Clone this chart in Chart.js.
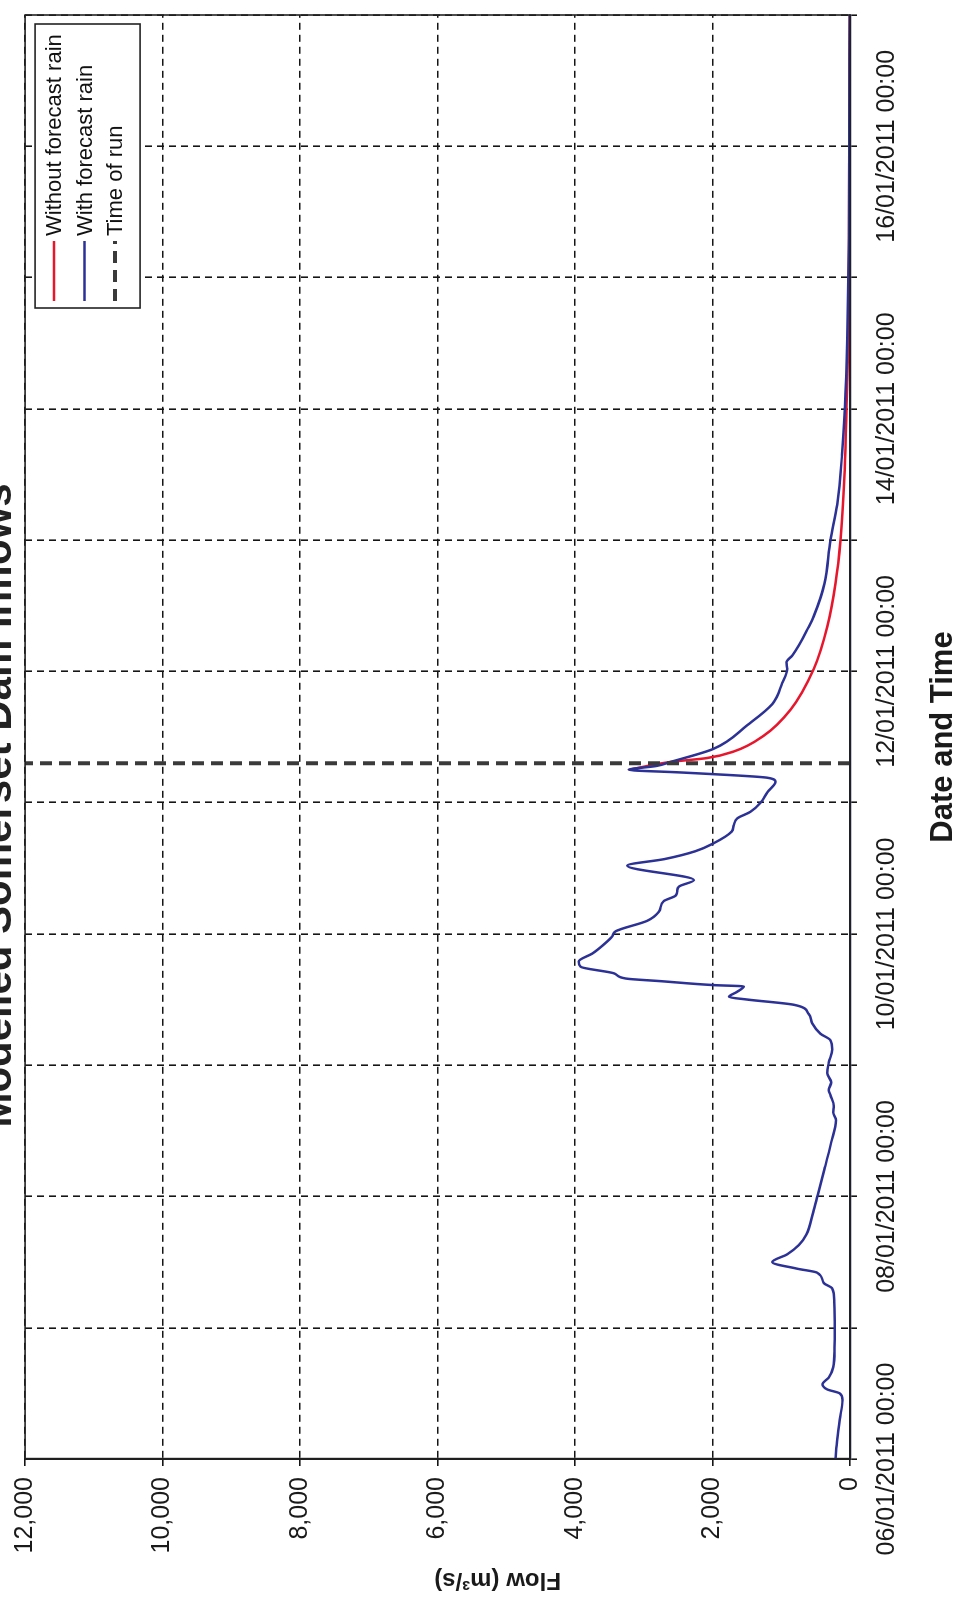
<!DOCTYPE html>
<html>
<head>
<meta charset="utf-8">
<script src="https://cdn.jsdelivr.net/npm/chart.js@4.4.1/dist/chart.umd.min.js"></script>
<style>
  html, body { margin: 0; padding: 0; background: #fff; }
  body { width: 969px; height: 1607px; overflow: hidden; position: relative; }
  /* chart is drawn landscape, then turned a quarter turn left like the scanned page */
  #wrap {
    position: absolute; left: 0; top: 0;
    width: 1607px; height: 1009px;
    transform-origin: 0 0;
    transform: translate(-40px, 1607px) rotate(-90deg);
  }
</style>
</head>
<body>
<div id="wrap"><canvas id="inflowChart" width="1607" height="1009"></canvas></div>
<script>
// days after 06/01/2011 00:00
const withDays = [0, 0.15, 0.30, 0.45, 0.50, 0.53, 0.57, 0.62, 0.70, 0.85,
  1.00, 1.20, 1.30, 1.34, 1.42, 1.45, 1.50, 1.56, 1.63, 1.71,
  1.88, 2.01, 2.21, 2.41, 2.58, 2.64, 2.69, 2.77, 2.81, 2.87,
  2.94, 3.02, 3.12, 3.19, 3.24, 3.32, 3.39, 3.46, 3.50, 3.52,
  3.56, 3.60, 3.61, 3.64, 3.66, 3.70, 3.75, 3.79, 3.85, 3.92,
  3.98, 4.02, 4.10, 4.17, 4.25, 4.29, 4.32, 4.36, 4.41, 4.52,
  4.57, 4.63, 4.69, 4.78, 4.83, 4.88, 4.93, 5.00, 5.08, 5.16,
  5.19, 5.21, 5.23, 5.25, 5.28, 5.31, 5.41, 5.59, 5.75, 5.91,
  6.02, 6.07, 6.12, 6.34, 6.42, 6.67, 7.00, 7.27, 7.65, 8.02,
  8.53, 9.30, 10.10, 11.00];
const withFlow = [211, 185, 150, 110, 150, 330, 400, 310, 245, 225,
  222, 228, 260, 380, 480, 770, 1130, 910, 745, 635,
  535, 470, 370, 275, 205, 245, 236, 284, 308, 274,
  332, 308, 260, 285, 430, 550, 600, 815, 1495, 1760,
  1640, 1545, 1980, 2750, 3260, 3435, 3920, 3945, 3750, 3580,
  3460, 3410, 2950, 2780, 2710, 2540, 2515, 2490, 2270, 3240,
  2700, 2250, 1985, 1720, 1690, 1640, 1450, 1300, 1200, 1084,
  1205, 1740, 2465, 3220, 2810, 2611, 1985, 1495, 1132, 986,
  913, 925, 841, 599, 527, 370, 284, 187, 116, 73,
  40, 15, 10, 5];

const withoutDays = [5.25, 5.31, 5.34, 5.39, 5.51, 5.71, 6.02, 6.34, 6.67,
  7.00, 7.50, 8.02, 8.44, 9.30, 10.10, 11.00];
const withoutFlow = [3220, 2611, 2076, 1690, 1255, 862, 527, 332, 211,
  138, 80, 51, 30, 14, 9, 5];

const timeOfRun = 5.30;          // 11/01/2011 ~07:00
const runFlow = [0, 12000];

const flowTicks = [0, 2000, 4000, 6000, 8000, 10000, 12000];
const dayLabels = ['06/01/2011 00:00', '08/01/2011 00:00', '10/01/2011 00:00',
  '12/01/2011 00:00', '14/01/2011 00:00', '16/01/2011 00:00'];

const pts = (xs, ys) => xs.map((x, i) => ({x: x, y: ys[i]}));

// plot frame + legend box inside the plot
const frame = {
  id: 'frame',
  afterDatasetsDraw(chart) {
    const {ctx, chartArea: a} = chart;
    ctx.save();
    ctx.strokeStyle = '#222';
    ctx.lineWidth = 1.6;
    ctx.strokeRect(a.left, a.top, a.right - a.left, a.bottom - a.top);

    const x0 = a.right - 293, y0 = a.top + 10, w = 284, h = 105;
    ctx.fillStyle = '#fff';
    ctx.fillRect(x0, y0, w, h);
    ctx.strokeRect(x0, y0, w, h);
    ctx.font = '22px "Liberation Sans", Arial, sans-serif';
    ctx.textBaseline = 'middle';
    chart.data.datasets.forEach((ds, i) => {
      const y = y0 + 19 + i * 30.5;
      ctx.strokeStyle = ds.borderColor;
      ctx.lineWidth = ds.borderWidth;
      ctx.setLineDash(ds.borderDash || []);
      ctx.beginPath();
      ctx.moveTo(x0 + 7, y);
      ctx.lineTo(x0 + 67, y);
      ctx.stroke();
      ctx.setLineDash([]);
      ctx.fillStyle = '#111';
      ctx.fillText(ds.label, x0 + 72, y + 1);
    });
    ctx.restore();
  }
};

Chart.defaults.font.family = '"Liberation Sans", Arial, sans-serif';
Chart.defaults.color = '#1a1a1a';

const ctx = document.getElementById('inflowChart').getContext('2d');
new Chart(ctx, {
  type: 'line',
  data: {
    datasets: [{
      label: 'Without forecast rain',
      data: pts(withoutDays, withoutFlow),
      borderColor: '#e8162c',
      borderWidth: 2.5,
      pointRadius: 0,
      cubicInterpolationMode: 'monotone',
      order: 2
    }, {
      label: 'With forecast rain',
      data: pts(withDays, withFlow),
      borderColor: '#2c3196',
      borderWidth: 2.5,
      pointRadius: 0,
      cubicInterpolationMode: 'monotone',
      order: 1
    }, {
      label: 'Time of run',
      data: pts([timeOfRun, timeOfRun], runFlow),
      borderColor: '#3a3a3a',
      borderWidth: 4,
      borderDash: [12, 7],
      pointRadius: 0,
      order: 0
    }]
  },
  options: {
    responsive: false,
    animation: false,
    devicePixelRatio: 1,
    layout: { padding: { left: 0, right: 4, top: 0, bottom: 0 } },
    plugins: {
      legend: { display: false },
      tooltip: { enabled: false },
      title: {
        display: true,
        text: 'Modelled Somerset Dam Inflows',
        color: '#222',
        font: { size: 42, weight: 'bold', lineHeight: 1.24 },
        padding: { top: 13, bottom: 0 }
      }
    },
    scales: {
      x: {
        type: 'linear',
        min: 0,
        max: 11,
        afterFit: (s) => { s.height = 119; },
        afterBuildTicks: (s) => { s.ticks = Array.from({length: 12}, (_, i) => ({value: i})); },
        ticks: {
          autoSkip: false,
          maxRotation: 0,
          minRotation: 0,
          padding: 15,
          font: { size: 25 },
          callback: (v) => (v % 2 === 0 ? dayLabels[v / 2] : '')
        },
        grid: {
          color: '#151515',
          lineWidth: 1.6,
          tickLength: 7,
          tickColor: '#151515',
          tickBorderDash: []
        },
        border: { color: '#1c1c4a', width: 2.2, dash: [7, 5] },
        title: {
          display: true,
          text: 'Date and Time',
          font: { size: 31, weight: 'bold' },
          padding: { top: 0, bottom: 7 }
        }
      },
      y: {
        min: 0,
        max: 12000,
        afterFit: (s) => { s.width = 148; },
        afterBuildTicks: (s) => { s.ticks = flowTicks.map(v => ({value: v})); },
        ticks: {
          padding: 11,
          font: { size: 25 },
          callback: (v) => v.toLocaleString('en-US')
        },
        grid: {
          color: '#151515',
          lineWidth: 1.6,
          tickLength: 7,
          tickColor: '#151515',
          tickBorderDash: []
        },
        border: { color: '#151515', width: 2.2, dash: [7, 5] },
        title: {
          display: true,
          text: 'Flow (m³/s)' + ' '.repeat(18),
          font: { size: 24, weight: 'bold' },
          padding: { top: 13, bottom: 0 }
        }
      }
    }
  },
  plugins: [frame]
});
</script>
</body>
</html>
